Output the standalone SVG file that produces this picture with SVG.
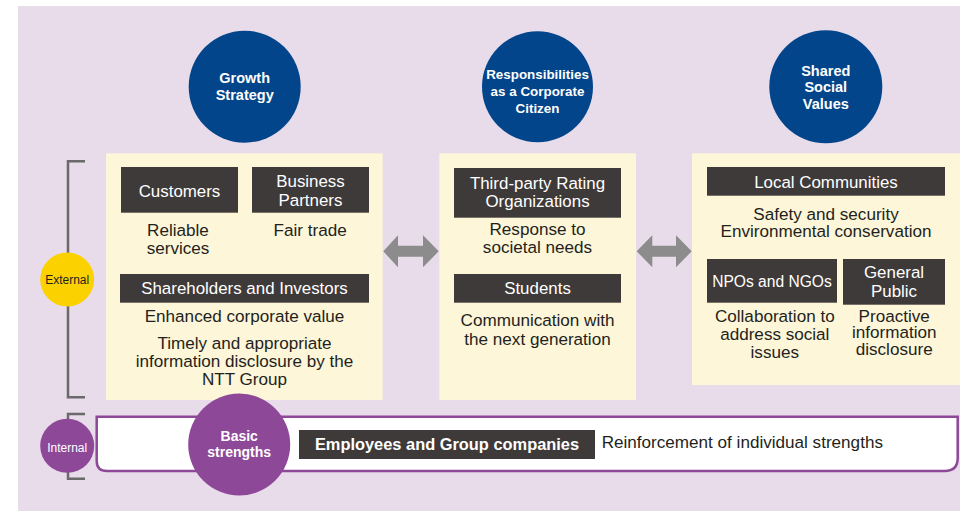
<svg xmlns="http://www.w3.org/2000/svg" width="960" height="511" viewBox="0 0 960 511">
  <style>
    text { font-family: "Liberation Sans", Arial, sans-serif; text-anchor: middle; }
    .hub { fill: #03458a; }
    .hubtxt { fill: #ffffff; font-size: 14.5px; font-weight: bold; }
    .panel { fill: #fdf6d8; }
    .tag { fill: #3e3a39; }
    .tagtxt { fill: #ffffff; font-size: 16.9px; }
    .body { fill: #231f20; font-size: 17.1px; }
    .arrow { fill: #8c8c8c; }
    .bracket { fill: none; stroke: #6a6a6a; stroke-width: 2.5; }
    .purple { fill: #8e4898; }
  </style>

  <!-- backdrop -->
  <rect x="0" y="0" width="960" height="511" fill="#ffffff"/>
  <rect x="18" y="6" width="942" height="505" fill="#e8dbea"/>

  <!-- arrows and brackets -->
  <g id="connectors">
    <path class="arrow" d="M383.3,251.3 L398,235.3 L398,245.8 L423,245.8 L423,235.3 L438.7,251.3 L423,267.3 L423,256.8 L398,256.8 L398,267.3 Z"/>
    <path class="arrow" d="M636.7,251.3 L652.3,235.3 L652.3,245.8 L676,245.8 L676,235.3 L691.7,251.3 L676,267.3 L676,256.8 L652.3,256.8 L652.3,267.3 Z"/>
    <path class="bracket" d="M85,161.3 H68 V397.3 H85"/>
    <path class="bracket" d="M85,414 H68 V478.7 H85"/>
  </g>

  <!-- top-level themes -->
  <g id="growth-strategy">
    <circle class="hub" cx="244.7" cy="86.7" r="56"/>
    <text class="hubtxt" x="244.7" y="83.3">Growth</text>
    <text class="hubtxt" x="244.7" y="100.3">Strategy</text>
  </g>
  <g id="corporate-citizen">
    <circle class="hub" cx="537.5" cy="86.7" r="55.5"/>
    <text class="hubtxt" x="537.5" y="79" style="font-size:13.4px">Responsibilities</text>
    <text class="hubtxt" x="537.5" y="96.3" style="font-size:13.4px">as a Corporate</text>
    <text class="hubtxt" x="537.5" y="113" style="font-size:13.4px">Citizen</text>
  </g>
  <g id="shared-values">
    <circle class="hub" cx="825.8" cy="86.7" r="56.5"/>
    <text class="hubtxt" x="825.8" y="75.7">Shared</text>
    <text class="hubtxt" x="825.8" y="92.3">Social</text>
    <text class="hubtxt" x="825.8" y="109">Values</text>
  </g>

  <!-- growth strategy stakeholders -->
  <g id="growth-panel">
    <rect class="panel" x="106" y="153.3" width="276.7" height="246.7"/>
    <g id="customers">
      <rect class="tag" x="121" y="167" width="117" height="45.7"/>
      <text class="tagtxt" x="179.5" y="196.7">Customers</text>
      <text class="body" x="178" y="236">Reliable</text>
      <text class="body" x="178" y="254">services</text>
    </g>
    <g id="business-partners">
      <rect class="tag" x="252" y="167" width="117" height="45.7"/>
      <text class="tagtxt" x="310.5" y="186.7">Business</text>
      <text class="tagtxt" x="310.5" y="205.7">Partners</text>
      <text class="body" x="310.2" y="236">Fair trade</text>
    </g>
    <g id="shareholders">
      <rect class="tag" x="120" y="274" width="249" height="28.7"/>
      <text class="tagtxt" x="244.5" y="294">Shareholders and Investors</text>
      <text class="body" x="244.5" y="321.7">Enhanced corporate value</text>
      <text class="body" x="244.5" y="349">Timely and appropriate</text>
      <text class="body" x="244.5" y="366.7">information disclosure by the</text>
      <text class="body" x="244.5" y="385.3">NTT Group</text>
    </g>
  </g>

  <!-- corporate citizen stakeholders -->
  <g id="citizen-panel">
    <rect class="panel" x="439.3" y="153.3" width="196.7" height="246.7"/>
    <g id="rating-organizations">
      <rect class="tag" x="454" y="168" width="167" height="49.7"/>
      <text class="tagtxt" x="537.5" y="188.7">Third-party Rating</text>
      <text class="tagtxt" x="537.5" y="206.7">Organizations</text>
      <text class="body" x="537.5" y="235.3">Response to</text>
      <text class="body" x="537.5" y="253.3">societal needs</text>
    </g>
    <g id="students">
      <rect class="tag" x="454" y="274" width="167" height="28.7"/>
      <text class="tagtxt" x="537.5" y="294">Students</text>
      <text class="body" x="537.5" y="326">Communication with</text>
      <text class="body" x="537.5" y="345">the next generation</text>
    </g>
  </g>

  <!-- shared value stakeholders -->
  <g id="shared-panel">
    <rect class="panel" x="692" y="153.3" width="268" height="231.7"/>
    <g id="local-communities">
      <rect class="tag" x="707" y="167" width="238" height="28.7"/>
      <text class="tagtxt" x="826" y="187.7">Local Communities</text>
      <text class="body" x="826" y="220">Safety and security</text>
      <text class="body" x="826" y="236.7">Environmental conservation</text>
    </g>
    <g id="npos-ngos">
      <rect class="tag" x="707" y="259" width="130" height="43.7"/>
      <text class="tagtxt" x="772" y="286.7" style="font-size:15.6px">NPOs and NGOs</text>
      <text class="body" x="774.8" y="321.7">Collaboration to</text>
      <text class="body" x="774.8" y="340">address social</text>
      <text class="body" x="774.8" y="358">issues</text>
    </g>
    <g id="general-public">
      <rect class="tag" x="843" y="259" width="102" height="45.7"/>
      <text class="tagtxt" x="894" y="278.3">General</text>
      <text class="tagtxt" x="894" y="296.7">Public</text>
      <text class="body" x="894.2" y="321.7">Proactive</text>
      <text class="body" x="894.2" y="338.3">information</text>
      <text class="body" x="894.2" y="355">disclosure</text>
    </g>
  </g>

  <!-- scope markers -->
  <g id="external">
    <circle cx="67.2" cy="279.5" r="27" fill="#fbd200"/>
    <text x="67.2" y="284.3" style="font-size:12px;fill:#231f20">External</text>
  </g>
  <g id="internal">
    <circle class="purple" cx="67.2" cy="445.8" r="27"/>
    <text x="67.2" y="451.7" style="font-size:12px;fill:#ffffff">Internal</text>
  </g>

  <!-- internal strengths band -->
  <g id="basic-strengths">
    <path d="M96.7,416.7 H957.7 V458 Q957.7,471 944.7,471 H107 Q96.7,471 96.7,461 Z" fill="#ffffff" stroke="#8e4898" stroke-width="2.5"/>
    <circle class="purple" cx="239.2" cy="444.5" r="51"/>
    <text class="hubtxt" x="239.2" y="441" style="font-size:14px">Basic</text>
    <text class="hubtxt" x="239.2" y="457" style="font-size:14px">strengths</text>
    <g id="employees">
      <rect class="tag" x="299" y="430" width="296" height="29"/>
      <text class="tagtxt" x="447" y="450" style="font-weight:bold;font-size:16.4px">Employees and Group companies</text>
      <text class="body" x="601.7" y="448.3" style="text-anchor:start">Reinforcement of individual strengths</text>
    </g>
  </g>
</svg>
